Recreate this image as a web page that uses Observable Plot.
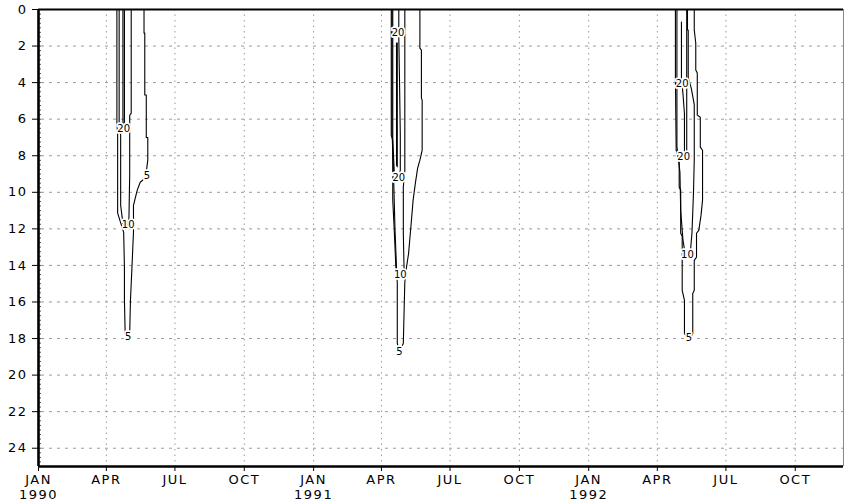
<!DOCTYPE html>
<html>
<head>
<meta charset="utf-8">
<script src="https://cdn.jsdelivr.net/npm/d3@7"></script>
<script src="https://cdn.jsdelivr.net/npm/@observablehq/plot@0.6"></script>
<style>
  html, body { margin: 0; padding: 0; background: #fff; }
  g[aria-label="x-axis tick label"] text, g[aria-label="y-axis tick label"] text { letter-spacing: 1.5px; }
</style>
</head>
<body>
<div id="chart"></div>
<script>
// ---- axes ----
const xDomain = ["1990-01-01", "1992-12-04"];
const yDomain = [0, 25];
const xTicks = ["1990-01-01","1990-04-01","1990-07-01","1990-10-01",
                "1991-01-01","1991-04-01","1991-07-01","1991-10-01",
                "1992-01-01","1992-04-01","1992-07-01","1992-10-01"];
const monthLabels = ["JAN", "APR", "JUL", "OCT"];
const yTicks = [0,2,4,6,8,10,12,14,16,18,20,22,24];
const yMinorTicks = d3.range(0, 25.01, 0.25);

// ---- contour lines (date, depth) ----
const c5_1990 = [["1990-04-15",0],["1990-04-15",6.16],["1990-04-16",6.87],["1990-04-16",11.14],["1990-04-24",12.19],
  ["1990-04-25",14.1],["1990-04-25",15.91],["1990-04-26",17.72],["1990-04-29",18.1],["1990-05-02",17.72],
  ["1990-05-03",15.91],["1990-05-05",14.1],["1990-05-07",12.19],["1990-05-07",10.71],["1990-05-12",9.88],
  ["1990-05-16",9.45],["1990-05-23",9.2],["1990-05-26",8.24],["1990-05-26",7.0],["1990-05-24",7.0],
  ["1990-05-24",4.68],["1990-05-22",4.68],["1990-05-22",1.29],["1990-05-21",1.29],["1990-05-21",0]];
const c10_1990 = [["1990-04-18",0],["1990-04-18",6.16],["1990-04-20",6.87],["1990-04-20",10.71],["1990-04-23",11.7],
  ["1990-04-28",11.95],["1990-05-01",11.42],["1990-05-02",9.0],["1990-05-02",5.8],["1990-05-04",5.67],["1990-05-04",0]];
const c20_1990 = [["1990-04-23",0],["1990-04-23",6.16],["1990-04-24",6.4],["1990-04-25",6.16],["1990-04-25",0]];

const c5_1991 = [["1991-04-14",0],["1991-04-14",6.87],["1991-04-16",7.15],["1991-04-16",10.43],["1991-04-18",12.08],
  ["1991-04-20",13.99],["1991-04-22",14.92],["1991-04-22",18.26],["1991-04-25",18.76],["1991-04-30",18.26],
  ["1991-05-02",14.92],["1991-05-04",14.16],["1991-05-07",13.34],["1991-05-10",11.91],["1991-05-13",10.43],
  ["1991-05-16",9.5],["1991-05-19",8.68],["1991-05-22",8.24],["1991-05-25",7.7],["1991-05-25",4.96],
  ["1991-05-24",4.85],["1991-05-24",2.22],["1991-05-22",2.11],["1991-05-22",0]];
const c10_1991 = [["1991-04-15",0],["1991-04-15",6.6],["1991-04-17",9.0],["1991-04-19",12.08],["1991-04-21",14.16],
  ["1991-04-25",14.7],["1991-05-01",14.16],["1991-04-30",12.24],["1991-04-30",9.72],["1991-05-02",8.8],["1991-05-02",0]];
const c20_1991 = [["1991-04-16",0],["1991-04-16",7.15],["1991-04-18",8.9],["1991-04-23",9.35],["1991-04-26",8.8],
  ["1991-04-26",6.87],["1991-04-25",4.0],["1991-04-24",1.5],["1991-04-24",0]];
const c30_1991 = [["1991-04-21",1.83],["1991-04-21",8.5],["1991-04-22",8.6],["1991-04-22",1.83],["1991-04-21",1.83]];

const c5_1992 = [["1992-04-25",0],["1992-04-25",3.75],["1992-04-26",7.7],["1992-04-30",8.24],["1992-04-30",9.72],
  ["1992-05-02",9.88],["1992-05-02",12.24],["1992-05-04",12.4],["1992-05-04",15.36],["1992-05-07",15.91],
  ["1992-05-07",17.72],["1992-05-13",18.1],["1992-05-18",17.72],["1992-05-18",15.53],["1992-05-20",15.36],
  ["1992-05-20",13.72],["1992-05-23",13.55],["1992-05-23",12.24],["1992-05-26",12.08],["1992-05-29",11.25],
  ["1992-05-31",10.43],["1992-05-31",7.7],["1992-05-28",7.53],["1992-05-28",5.89],["1992-05-24",5.78],
  ["1992-05-24",3.48],["1992-05-22",3.31],["1992-05-22",1.83],["1992-05-20",1.12],["1992-05-20",0]];
const c10_1992 = [["1992-04-27",0],["1992-04-27",7.5],["1992-05-01",8.9],["1992-05-02",11.0],["1992-05-05",12.6],
  ["1992-05-08",13.4],["1992-05-11",13.6],["1992-05-15",13.2],["1992-05-17",12.2],["1992-05-19",10.0],
  ["1992-05-20",8.2],["1992-05-20",5.2],["1992-05-16",4.3],["1992-05-12",3.75],["1992-05-12",1.12],
  ["1992-05-11",1.12],["1992-05-11",0]];
const c20_1992 = [["1992-05-03",0.68],["1992-05-03",3.75],["1992-05-05",4.6],["1992-05-07",5.7],["1992-05-07",7.9],
  ["1992-05-08",8.2],["1992-05-10",7.9],["1992-05-10",5.8],["1992-05-10",0.68],["1992-05-10",0]];

// ---- contour labels (date, depth, text) ----
const contourLabels = [
  ["1990-04-24", 6.52, "20"], ["1990-04-30", 11.8, "10"], ["1990-04-30", 17.9, "5"], ["1990-05-25", 9.12, "5"],
  ["1991-04-23", 1.26, "20"], ["1991-04-24", 9.2, "20"], ["1991-04-26", 14.5, "10"], ["1991-04-25", 18.7, "5"],
  ["1992-05-04", 4.05, "20"], ["1992-05-06", 8.05, "20"], ["1992-05-11", 13.4, "10"], ["1992-05-13", 17.96, "5"]
];

const contourSets = [c5_1990, c10_1990, c20_1990, c5_1991, c10_1991, c20_1991, c30_1991, c5_1992, c10_1992, c20_1992];
const lineRows = contourSets.flatMap((pts, i) => pts.map(([d, v]) => ({date: new Date(d), depth: v, id: i})));
const labelRows = contourLabels.map(([d, v, t]) => ({date: new Date(d), depth: v, text: t}));
const xTickDates = xTicks.map(d => new Date(d));
const xStart = new Date(xDomain[0]), xEnd = new Date(xDomain[1]);

const fmt = d => {
  const m = monthLabels[d.getUTCMonth() / 3];
  return d.getUTCMonth() === 0 ? m + "\n" + d.getUTCFullYear() : m;
};

const chart = Plot.plot({
  width: 845,
  height: 502,
  marginLeft: 38,
  marginRight: 2,
  marginTop: 9,
  marginBottom: 36,
  style: {fontFamily: "'DejaVu Sans', sans-serif", fontSize: "13px", background: "#fff", color: "#000"},
  x: {type: "utc", domain: [xStart, xEnd], label: null},
  y: {domain: yDomain, reverse: true, label: null},
  marks: [
    Plot.ruleX(xTickDates.slice(1), {stroke: "#9a9a9a", strokeWidth: 1, strokeDasharray: "1.5,4"}),
    Plot.ruleY(yTicks.slice(1), {stroke: "#9a9a9a", strokeWidth: 1, strokeDasharray: "3,5", insetLeft: 3}),
    Plot.tickY(yMinorTicks, {y: d => d, stroke: "#555", insetRight: 802}),
    Plot.line(lineRows, {x: "date", y: "depth", z: "id", stroke: "#000", strokeWidth: 1.1, curve: "linear"}),
    Plot.text(labelRows, {x: "date", y: "depth", text: "text", fontSize: 10, fill: "#000", stroke: "#fff", strokeWidth: 3.5}),
    Plot.ruleX([xEnd], {stroke: "#888", strokeWidth: 1}),
    Plot.ruleY([0], {stroke: "#000", strokeWidth: 2.2}),
    Plot.ruleY([25], {stroke: "#000", strokeWidth: 2.5}),
    Plot.ruleX([xStart], {stroke: "#000", strokeWidth: 2.6}),
    Plot.axisY({ticks: yTicks, tickSize: 6, tickPadding: 5, fontSize: 13, label: null, tickFormat: d => String(d)}),
    Plot.axisX({ticks: xTickDates, tickSize: 5, tickPadding: 3, fontSize: 13, lineHeight: 1.08, label: null, tickFormat: fmt})
  ]
});
document.getElementById("chart").appendChild(chart);
</script>
</body>
</html>
